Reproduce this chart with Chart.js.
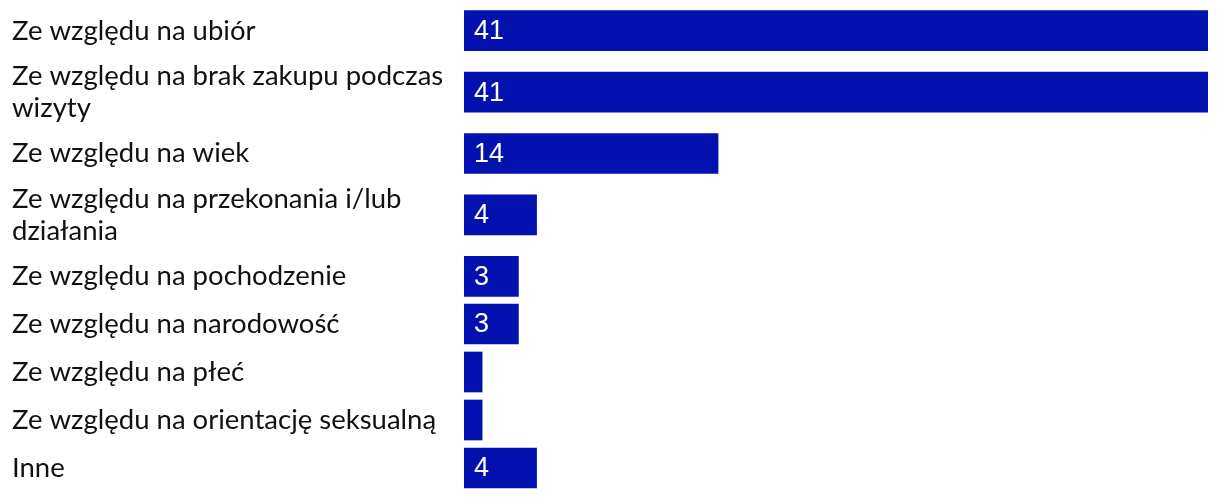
<!DOCTYPE html>
<html>
<head>
<meta charset="utf-8">
<script src="https://cdn.jsdelivr.net/npm/chart.js@4.4.0/dist/chart.umd.min.js"></script>
<style>
  body { margin: 0; background: #fff; }
  #wrap { position: relative; width: 1220px; height: 500px; }
  .box { position: absolute; left: 0; width: 1220px; }
</style>
</head>
<body>
<div id="wrap">
  <div class="box" style="top:0"><canvas id="topChart" width="1220" height="307"></canvas></div>
  <div class="box" style="top:300px"><canvas id="bottomChart" width="1220" height="192"></canvas></div>
</div>
<script>
// answers (wrapped labels are given as lines)
const categories = [
    'Ze względu na ubiór',
    ['Ze względu na brak zakupu podczas', 'wizyty'],
    'Ze względu na wiek',
    ['Ze względu na przekonania i/lub', 'działania'],
    'Ze względu na pochodzenie',
    'Ze względu na narodowość',
    'Ze względu na płeć',
    'Ze względu na orientację seksualną',
    'Inne'
];
const counts = [41, 41, 14, 4, 3, 3, 1, 1, 4];
const maxCount = 41;

// first rows are spaced wider than the rest in the original
const wideRows = 5;

const barColor = '#0311ae';
const labelFont = { family: 'Lato', size: 27.5, lineHeight: 1.16 };

const valueLabels = {
    id: 'valueLabels',
    afterDatasetsDraw(chart) {
        const ctx = chart.ctx;
        const meta = chart.getDatasetMeta(0);
        const data = chart.data.datasets[0].data;
        ctx.save();
        ctx.fillStyle = '#ffffff';
        ctx.font = '27px "Liberation Sans", Arial, sans-serif';
        ctx.textBaseline = 'middle';
        ctx.textAlign = 'left';
        meta.data.forEach((bar, i) => {
            const text = String(data[i]);
            // too narrow bars get no label
            if (ctx.measureText(text).width + 14 > bar.x - bar.base) return;
            ctx.fillText(text, bar.base + 10, bar.y + 1);
        });
        ctx.restore();
    }
};

function makeChart(id, labels, values) {
    const ctx = document.getElementById(id).getContext('2d');
    return new Chart(ctx, {
        type: 'bar',
        data: {
            labels: labels,
            datasets: [{
                data: values,
                backgroundColor: barColor,
                borderWidth: 0,
                barThickness: 40
            }]
        },
        options: {
            indexAxis: 'y',
            responsive: false,
            animation: false,
            layout: { padding: { left: 12, right: 12, top: 0, bottom: 0 } },
            plugins: {
                legend: { display: false },
                tooltip: { enabled: false }
            },
            scales: {
                x: {
                    display: false,
                    min: 0,
                    max: maxCount
                },
                y: {
                    grid: { display: false },
                    border: { display: false },
                    afterFit: (scale) => {
                        scale.width = 452;
                        // no extra room above/below for the labels
                        scale.paddingTop = 0;
                        scale.paddingBottom = 0;
                    },
                    ticks: {
                        autoSkip: false,
                        crossAlign: 'far',
                        padding: 0,
                        color: '#111111',
                        font: labelFont
                    }
                }
            }
        },
        plugins: [valueLabels]
    });
}

makeChart('topChart', categories.slice(0, wideRows), counts.slice(0, wideRows));
makeChart('bottomChart', categories.slice(wideRows), counts.slice(wideRows));
</script>
</body>
</html>
